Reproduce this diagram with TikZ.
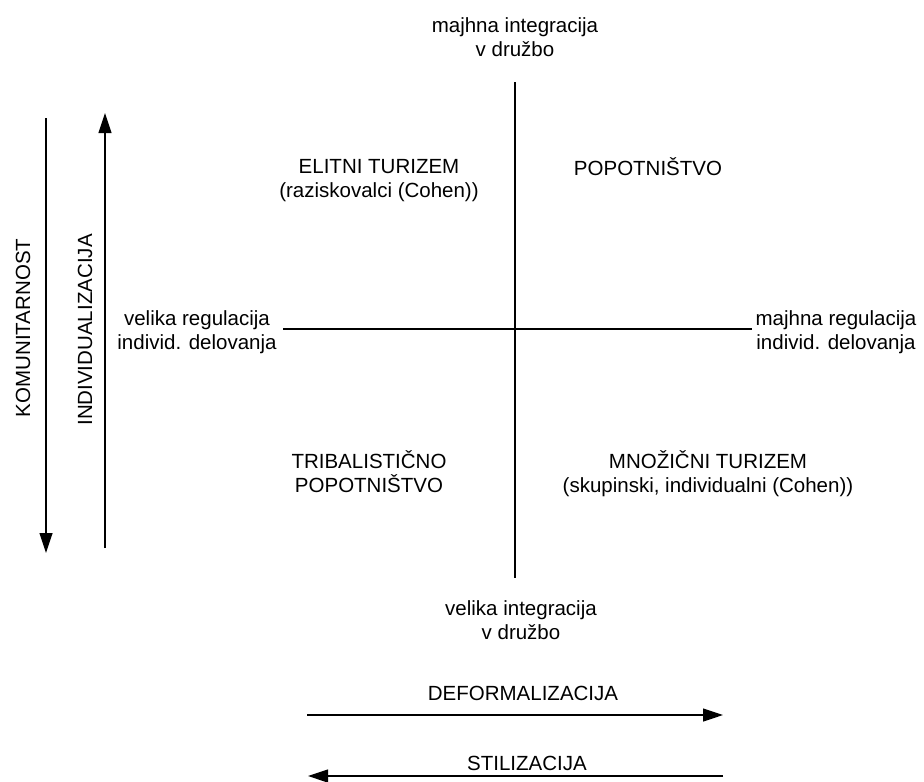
\documentclass[tikz,border=0pt]{standalone}
\usepackage{fontspec}
\setmainfont{Liberation Sans}
\usetikzlibrary{arrows.meta}
\begin{document}
\begin{tikzpicture}[x=1pt,y=-1pt,
  lbl/.style={font=\fontsize{20.5}{24}\selectfont, inner sep=0pt, align=center, anchor=base},
  axis/.style={line width=1.2pt},
  dirarrow/.style={line width=1.2pt, -{Triangle[length=20pt,width=13pt]}}]
\useasboundingbox (0,0) rectangle (924,782);
% axes
\coordinate (vt) at (515,82);
\coordinate (vb) at (515,578);
\coordinate (hl) at (283,329);
\coordinate (hr) at (752,329);
\draw[axis] (vt) -- (vb);
\draw[axis] (hl) -- (hr);
% axis end labels (base = baseline of last line)
\node[lbl] (top) at (515,56) {majhna integracija\\v družbo};
\node[lbl] (bot) at (521,639) {velika integracija\\v družbo};
\node[lbl] (left) at (197,349) {velika regulacija\\individ. delovanja};
\node[lbl] (right) at (836,349) {majhna regulacija\\individ. delovanja};
% quadrant labels
\node[lbl] (elit) at (379,197) {ELITNI TURIZEM\\(raziskovalci (Cohen))};
\node[lbl] (pop) at (648,175) {POPOTNIŠTVO};
\node[lbl] (trib) at (369,492) {TRIBALISTIČNO\\POPOTNIŠTVO};
\node[lbl] (mnoz) at (708,492) {MNOŽIČNI TURIZEM\\(skupinski, individualni (Cohen))};
% side arrows
\node[lbl, rotate=90] (kom) at (30,328) {KOMUNITARNOST};
\node[lbl, rotate=90] (ind) at (92,330) {INDIVIDUALIZACIJA};
\coordinate (k1) at (46,118);
\coordinate (k2) at (46,553);
\draw[dirarrow] (k1) -- (k2);
\coordinate (i1) at (105,548);
\coordinate (i2) at (105,113);
\draw[dirarrow] (i1) -- (i2);
% bottom arrows
\node[lbl] (def) at (523,700) {DEFORMALIZACIJA};
\node[lbl] (stil) at (527,770) {STILIZACIJA};
\coordinate (d1) at (307,715);
\coordinate (d2) at (723,715);
\draw[dirarrow] (d1) -- (d2);
\coordinate (s1) at (723,776);
\coordinate (s2) at (308,776);
\draw[dirarrow] (s1) -- (s2);
\end{tikzpicture}
\end{document}
